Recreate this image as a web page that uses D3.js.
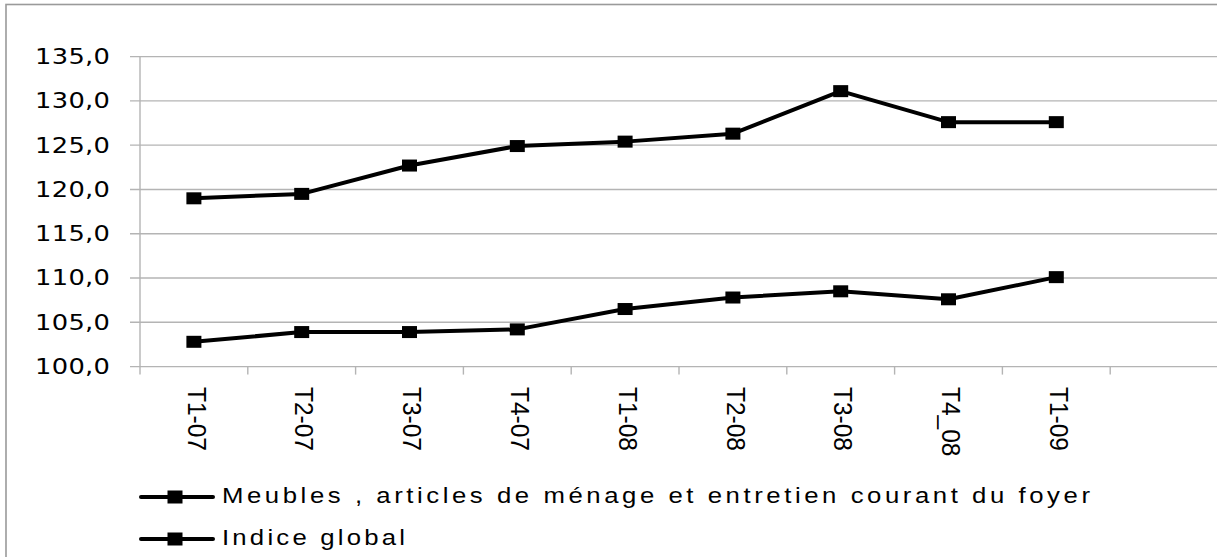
<!DOCTYPE html>
<html>
<head>
<meta charset="utf-8">
<script src="https://cdn.jsdelivr.net/npm/d3@7"></script>
<style>
  html, body { margin: 0; padding: 0; background: #fff; }
  svg { display: block; }
</style>
</head>
<body>
<svg id="chart" width="1217" height="557"></svg>
<script>
// ---- data ----
const categories = ["T1-07", "T2-07", "T3-07", "T4-07", "T1-08", "T2-08", "T3-08", "T4_08", "T1-09"];
const meubles = [119.0, 119.5, 122.7, 124.9, 125.4, 126.3, 131.1, 127.6, 127.6];
const indiceGlobal = [102.8, 103.9, 103.9, 104.2, 106.5, 107.8, 108.5, 107.6, 110.1];
const seriesNames = ["Meubles , articles de ménage et entretien courant du foyer", "Indice global"];
const yTicks = [100, 105, 110, 115, 120, 125, 130, 135];
const yTickLabels = ["100,0", "105,0", "110,0", "115,0", "120,0", "125,0", "130,0", "135,0"];

const svg = d3.select("#chart");
const W = 1217, H = 557;
const SX = 1.17; // horizontal glyph stretch seen in the reference

// outer frame
svg.append("rect")
  .attr("x", 6).attr("y", 4.5)
  .attr("width", W + 20).attr("height", H + 20)
  .attr("fill", "none").attr("stroke", "#9a9a9a").attr("stroke-width", 1.6);

// scales (10 slots: 9 categories + one empty slot)
const slots = categories.concat(["__empty__"]);
const x = d3.scaleBand().domain(slots).range([140, 1218]).paddingInner(0).paddingOuter(0);
const y = d3.scaleLinear().domain([100, 135]).range([366.6, 56.6]);

const gridColor = "#b4b4b4";

// horizontal gridlines
svg.append("g").selectAll("line").data(yTicks).join("line")
  .attr("x1", 130).attr("x2", W)
  .attr("y1", d => y(d)).attr("y2", d => y(d))
  .attr("stroke", gridColor).attr("stroke-width", 1.4);

// y axis line
svg.append("line")
  .attr("x1", 140).attr("x2", 140)
  .attr("y1", y(135)).attr("y2", y(100) + 8)
  .attr("stroke", gridColor).attr("stroke-width", 1.4);

// x ticks at band boundaries
const boundaries = slots.map(s => x(s)).concat([x.range()[1]]);
svg.append("g").selectAll("line").data(boundaries.slice(1)).join("line")
  .attr("x1", d => d).attr("x2", d => d)
  .attr("y1", y(100)).attr("y2", y(100) + 8)
  .attr("stroke", gridColor).attr("stroke-width", 1.4);

// y tick labels
svg.append("g").attr("transform", `scale(${SX},1)`)
  .selectAll("text").data(yTicks).join("text")
  .attr("x", 110 / SX).attr("y", d => y(d))
  .attr("text-anchor", "end")
  .attr("dominant-baseline", "central")
  .attr("font-family", "DejaVu Sans, sans-serif")
  .attr("font-size", 22)
  .attr("fill", "#000")
  .attr("textLength", 75 / SX).attr("lengthAdjust", "spacing")
  .text((d, i) => yTickLabels[i]);

// x tick labels, rotated 90deg
svg.append("g").selectAll("text").data(categories).join("text")
  .attr("transform", d => `translate(${x(d) + x.bandwidth() / 2 + 3},387) scale(1.08,1) rotate(90)`)
  .attr("text-anchor", "start")
  .attr("dominant-baseline", "central")
  .attr("font-family", "Liberation Sans, Arial, sans-serif")
  .attr("font-size", 24.5)
  .attr("fill", "#000")
  .text(d => d);

// lines and markers
const line = d3.line()
  .x((d, i) => x(categories[i]) + x.bandwidth() / 2)
  .y(d => y(d));

[meubles, indiceGlobal].forEach(vals => {
  svg.append("path")
    .datum(vals)
    .attr("d", line)
    .attr("fill", "none")
    .attr("stroke", "#000")
    .attr("stroke-width", 4)
    .attr("stroke-linejoin", "round");
  svg.append("g").selectAll("rect").data(vals).join("rect")
    .attr("x", (d, i) => x(categories[i]) + x.bandwidth() / 2 - 7.5)
    .attr("y", d => y(d) - 6)
    .attr("width", 15).attr("height", 12)
    .attr("fill", "#000");
});

// legend
const legendRows = [
  { name: seriesNames[0], ly: 497, baseline: 503.5, len: 868 },
  { name: seriesNames[1], ly: 539, baseline: 545.5, len: 183 }
];
const lg = svg.append("g");
legendRows.forEach(r => {
  lg.append("line")
    .attr("x1", 141).attr("x2", 213)
    .attr("y1", r.ly).attr("y2", r.ly)
    .attr("stroke", "#000").attr("stroke-width", 4).attr("stroke-linecap", "round");
  lg.append("rect")
    .attr("x", 175 - 7.5).attr("y", r.ly - 6.5)
    .attr("width", 15).attr("height", 13)
    .attr("fill", "#000");
  lg.append("g").attr("transform", `scale(${SX},1)`)
    .append("text")
    .attr("x", 222 / SX).attr("y", r.baseline)
    .attr("font-family", "Liberation Sans, Arial, sans-serif")
    .attr("font-size", 22)
    .attr("fill", "#000")
    .attr("textLength", r.len / SX).attr("lengthAdjust", "spacing")
    .text(r.name);
});
</script>
</body>
</html>
